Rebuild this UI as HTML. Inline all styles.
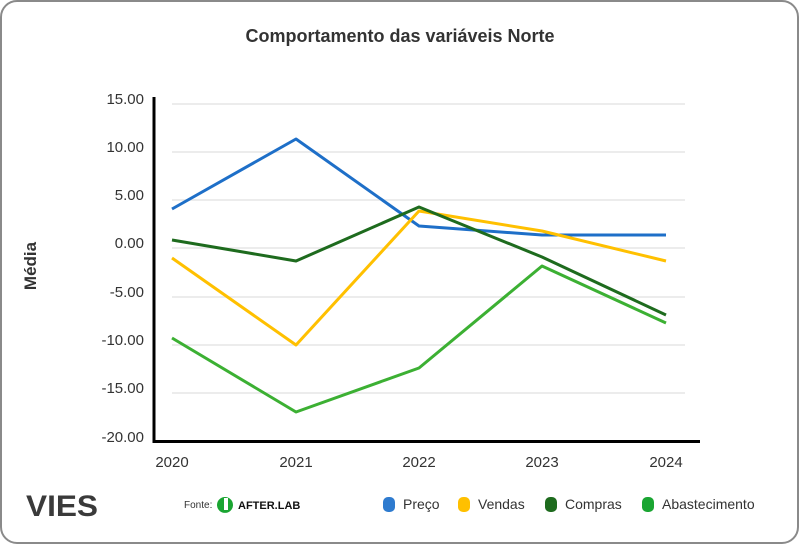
<!DOCTYPE html>
<html><head><meta charset="utf-8"><style>
body{margin:0;width:800px;height:545px;background:#fff;overflow:hidden;font-family:"Liberation Sans",sans-serif}
</style></head><body>
<svg width="800" height="545" xmlns="http://www.w3.org/2000/svg" font-family="Liberation Sans, sans-serif">
<rect x="1" y="1" width="797" height="542" rx="16" fill="#fff" stroke="#8a8a8a" stroke-width="2"/>
<text x="400" y="42" text-anchor="middle" font-size="18" font-weight="bold" fill="#333">Comportamento das variáveis Norte</text>
<g stroke="#e6e6e6" stroke-width="1.5">
<line x1="172" y1="104" x2="685" y2="104"/><line x1="172" y1="152" x2="685" y2="152"/>
<line x1="172" y1="200" x2="685" y2="200"/><line x1="172" y1="248" x2="685" y2="248"/>
<line x1="172" y1="297" x2="685" y2="297"/><line x1="172" y1="345" x2="685" y2="345"/>
<line x1="172" y1="393" x2="685" y2="393"/>
</g>
<g font-size="15" fill="#333" text-anchor="end">
<text x="144" y="104">15.00</text><text x="144" y="152">10.00</text><text x="144" y="200">5.00</text>
<text x="144" y="248">0.00</text><text x="144" y="297">-5.00</text><text x="144" y="345">-10.00</text>
<text x="144" y="393">-15.00</text><text x="144" y="442">-20.00</text>
</g>
<text transform="translate(36,266) rotate(-90)" text-anchor="middle" font-size="17" font-weight="bold" fill="#333">Média</text>
<line x1="154" y1="97" x2="154" y2="443" stroke="#000" stroke-width="3"/>
<line x1="153" y1="441.5" x2="700" y2="441.5" stroke="#000" stroke-width="3"/>
<g font-size="15" fill="#333" text-anchor="middle">
<text x="172" y="467">2020</text><text x="296" y="467">2021</text><text x="419" y="467">2022</text>
<text x="542" y="467">2023</text><text x="666" y="467">2024</text>
</g>
<g fill="none" stroke-width="3" stroke-linejoin="round">
<polyline stroke="#1e6fc8" points="172,209 296,139 419,226 542,235 666,235"/>
<polyline stroke="#ffc000" points="172,258 296,345 419,211 542,231 666,261"/>
<polyline stroke="#1e6b1e" points="172,240 296,261 419,207 542,257 666,315"/>
<polyline stroke="#3cb033" points="172,338 296,412 419,368 542,266 666,323"/>
</g>
<text x="26" y="516" font-size="30" font-weight="bold" fill="#3a3a3a" textLength="72" lengthAdjust="spacingAndGlyphs">VIES</text>
<text x="184" y="508" font-size="10" fill="#333">Fonte:</text>
<path d="M224,497 a8,8 0 1 0 2,0 z" fill="#1aa532"/>
<rect x="224" y="498" width="4" height="12" fill="#fff"/>
<text x="238" y="509" font-size="11" font-weight="bold" fill="#111">AFTER.LAB</text>
<g font-size="14" fill="#333">
<rect x="383" y="497" width="12" height="15" rx="5" fill="#2e7bcf"/><text x="403" y="509">Preço</text>
<rect x="458" y="497" width="12" height="15" rx="5" fill="#ffc000"/><text x="478" y="509">Vendas</text>
<rect x="545" y="497" width="12" height="15" rx="5" fill="#1e6b1e"/><text x="565" y="509">Compras</text>
<rect x="642" y="497" width="12" height="15" rx="5" fill="#1aa532"/><text x="662" y="509">Abastecimento</text>
</g>
</svg>
</body></html>
